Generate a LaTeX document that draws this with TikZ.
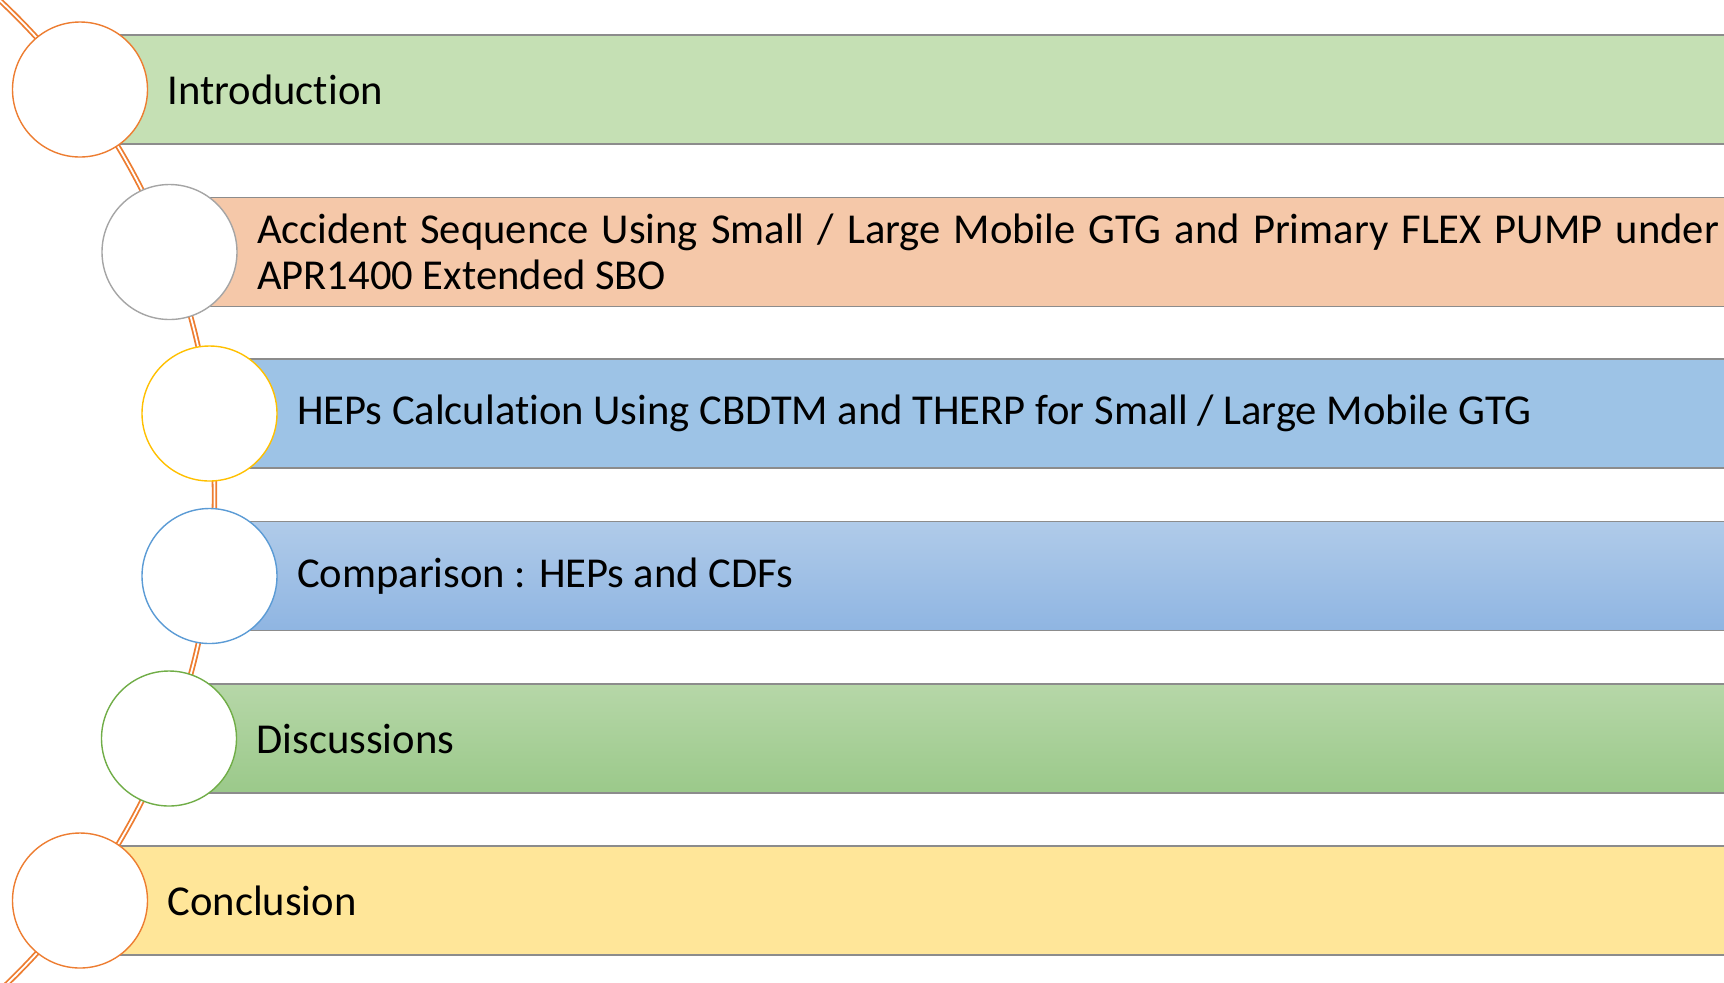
\documentclass[tikz,border=0pt]{standalone}
\usepackage{fontspec}
\setmainfont{Carlito}[Ligatures=NoCommon]
\usetikzlibrary{positioning}
\definecolor{arcorange}{HTML}{ED7D31}
\definecolor{ringgray}{HTML}{A5A5A5}
\definecolor{ringgold}{HTML}{FFC000}
\definecolor{ringblue}{HTML}{5B9BD5}
\definecolor{ringgreen}{HTML}{70AD47}
\definecolor{bandline}{HTML}{8C8C8C}
\definecolor{introgreen}{HTML}{C5E0B4}
\definecolor{seqpeach}{HTML}{F5C8A9}
\definecolor{hepblue}{HTML}{9DC3E6}
\definecolor{cmptop}{HTML}{B0CBE9}
\definecolor{cmpbot}{HTML}{8FB5E2}
\definecolor{disctop}{HTML}{B6D7A8}
\definecolor{discbot}{HTML}{9BC98A}
\definecolor{conyellow}{HTML}{FFE699}
\tikzset{
  band/.style={draw=bandline, line width=0.8pt},
  band1/.style={fill=introgreen},
  band2/.style={fill=seqpeach},
  band3/.style={fill=hepblue},
  band4/.style={top color=cmptop, bottom color=cmpbot},
  band5/.style={top color=disctop, bottom color=discbot},
  band6/.style={fill=conyellow},
  ring/.style={circle, fill=white, minimum size=67.5pt, inner sep=0pt, line width=0.7pt},
  item/.style={inner sep=0pt, font=\fontsize{21.3}{23}\selectfont, align=left}
}

\begin{document}
\begin{tikzpicture}[x=0.5pt,y=-0.5pt]
\clip (0,0) rectangle (1724,982);
% timeline arc
\draw[draw=arcorange, line width=0.9pt, double=white, double distance=0.9pt] (-463.8,495.5) circle [radius=678.3];
% bands
\foreach \i/\cx/\cy in {1/80/89.5, 2/169.5/252, 3/209.5/413.5, 4/209.5/576, 5/169/738.5, 6/80/900.5}
  \draw[band, band\i] (\cx,\cy-54.5) rectangle (1740,\cy+54.5);
% rings
\foreach \i/\cx/\cy/\col in {1/80/89.5/arcorange, 2/169.5/252/ringgray, 3/209.5/413.5/ringgold, 4/209.5/576/ringblue, 5/169/738.5/ringgreen, 6/80/900.5/arcorange}
  \node[ring, draw=\col] (c\i) at (\cx,\cy) {};
% labels
\node[item, right=9.5pt of c1] (t1) {Introduction};
\node[item, right=9.5pt of c2] (t2) {\makebox[731pt][s]{Accident Sequence Using Small / Large Mobile GTG and Primary FLEX PUMP under}\\APR1400 Extended SBO};
\node[item, right=9.5pt of c3] (t3) {HEPs Calculation Using CBDTM and THERP for Small / Large Mobile GTG};
\node[item, right=9.5pt of c4] (t4) {Comparison : HEPs and CDFs};
\node[item, right=9.5pt of c5] (t5) {Discussions};
\node[item, right=9.5pt of c6] (t6) {Conclusion};
\end{tikzpicture}
\end{document}
